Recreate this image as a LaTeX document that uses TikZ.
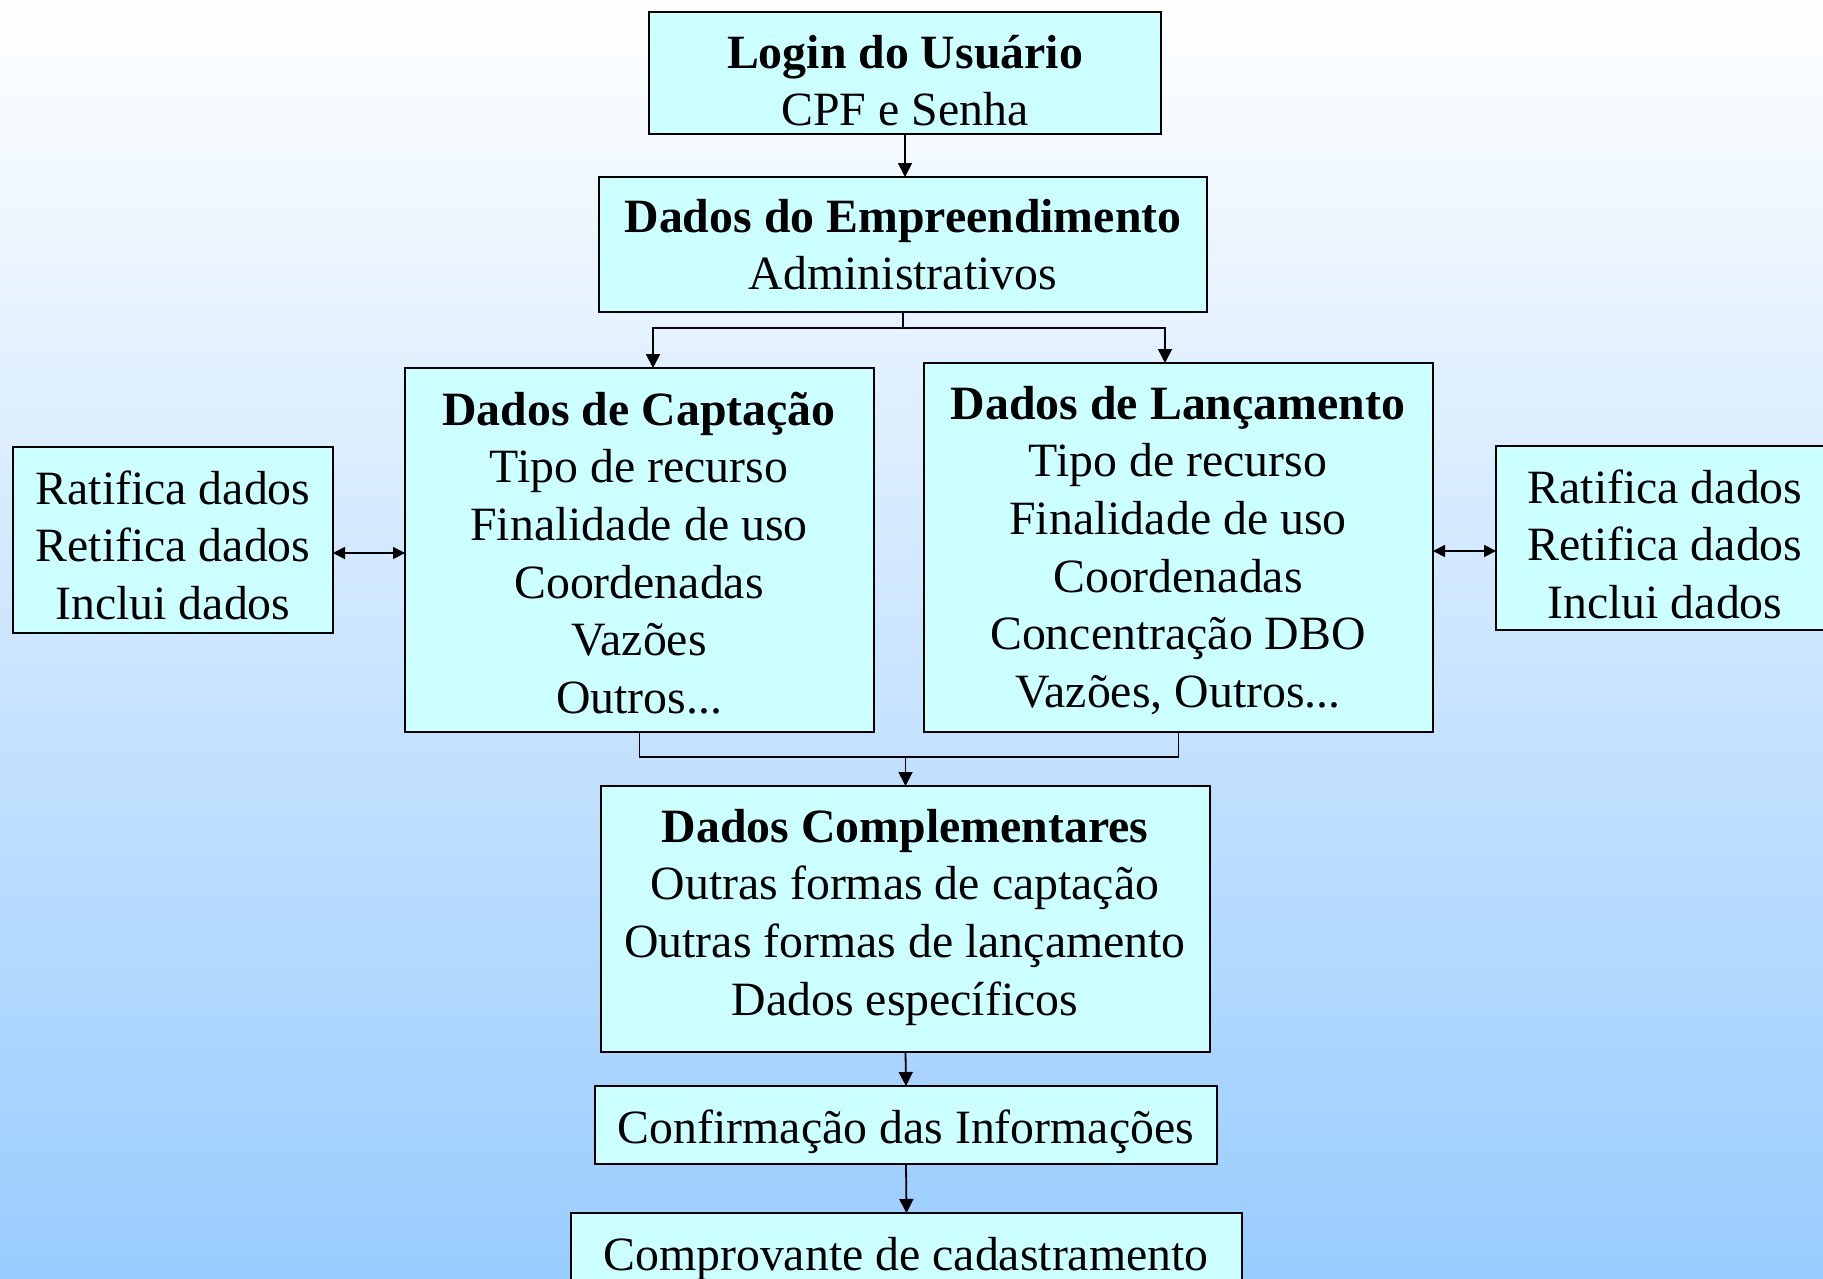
\documentclass[tikz,border=0pt]{standalone}
\usepackage{fontspec}
\setmainfont{Liberation Serif}
\usetikzlibrary{arrows.meta}
\definecolor{boxfill}{RGB}{204,255,255}
\definecolor{bgbot}{RGB}{153,204,255}
\begin{document}
\begin{tikzpicture}[x=1pt,y=-1pt,
  box/.style={draw=black, line width=2pt, fill=boxfill, inner sep=0pt, outer sep=0pt},
  txt/.style={anchor=north, align=center, inner sep=0pt, font=\fontsize{47.8}{57.6}\selectfont},
  conn/.style={line width=1.8pt},
  arr/.style={conn, -{Triangle[length=14pt,width=14pt]}},
  arrtwo/.style={conn, {Triangle[length=14pt,width=14pt]}-{Triangle[length=14pt,width=14pt]}},
  dbl/.style={conn, {Triangle[length=12pt,width=12pt]}-{Triangle[length=12pt,width=12pt]}}]
\useasboundingbox (0,0) rectangle (1823,1279);
\clip (0,0) rectangle (1823,1279);
\fill[top color=white, bottom color=bgbot] (0,0) rectangle (1823,1279);

% boxes
\node[box, minimum width=512pt, minimum height=122pt] (login) at (905,73) {};
\node[box, minimum width=608pt, minimum height=135pt] (emp) at (903,244.5) {};
\node[box, minimum width=469pt, minimum height=364pt] (capt) at (639.5,550) {};
\node[box, minimum width=509pt, minimum height=369pt] (lanc) at (1178.5,547.5) {};
\node[box, minimum width=320pt, minimum height=186pt] (left) at (173,540) {};
\node[box, minimum width=338pt, minimum height=184pt] (right) at (1665,538) {};
\node[box, minimum width=609pt, minimum height=266pt] (comp) at (905.5,919) {};
\node[box, minimum width=622pt, minimum height=78pt] (conf) at (906,1125) {};
\node[box, minimum width=671pt, minimum height=120pt] (compr) at (906.5,1273) {};

% texts
\node[txt] (loginT) at (905,27.7) {\strut{\bfseries Login do Usuário}\\\strut CPF e Senha};
\node[txt] (empT) at (903,191.7) {\strut{\bfseries Dados do Empreendimento}\\\strut Administrativos};
\node[txt] (captT) at (639,384.7) {\strut{\bfseries Dados de Captação}\\\strut Tipo de recurso\\\strut Finalidade de uso\\\strut Coordenadas\\\strut Vazões\\\strut Outros...};
\node[txt] (lancT) at (1178,378.7) {\strut{\bfseries Dados de Lançamento}\\\strut Tipo de recurso\\\strut Finalidade de uso\\\strut Coordenadas\\\strut Concentração DBO\\\strut Vazões, Outros...};
\node[txt] (leftT) at (173,463.7) {\strut Ratifica dados\\\strut Retifica dados\\\strut Inclui dados};
\node[txt] (rightT) at (1665,462.7) {\strut Ratifica dados\\\strut Retifica dados\\\strut Inclui dados};
\node[txt] (compT) at (905,801.7) {\strut{\bfseries Dados Complementares}\\\strut Outras formas de captação\\\strut Outras formas de lançamento\\\strut Dados específicos};
\node[txt] (confT) at (906,1102.7) {\strut Confirmação das Informações};
\node[txt] (comprT) at (906,1229.7) {\strut Comprovante de cadastramento};

% connectors
\coordinate (ej) at (906,328);
\coordinate (ca) at (653,0);
\coordinate (la) at (1165,0);
\coordinate (bj) at (906,757);
\coordinate (yl) at (0,553);
\coordinate (yr) at (0,551);

\draw[arr] (login.south) -- (login.south |- emp.north);
\draw[conn] (emp.south |- ej) -- (emp.south);
\draw[arrtwo] (ca |- capt.north) |- (la |- ej) -- (la |- lanc.north);
\draw[conn] (capt.south) |- (lanc.south |- bj) -- (lanc.south);
\draw[arr] (comp.north |- bj) -- (comp.north);
\draw[arr] (comp.south) -- (conf.north);
\draw[arr] (conf.south) -- (compr.north);
\draw[dbl] (left.east |- yl) -- (capt.west |- yl);
\draw[dbl] (lanc.east |- yr) -- (right.west |- yr);
\end{tikzpicture}
\end{document}
